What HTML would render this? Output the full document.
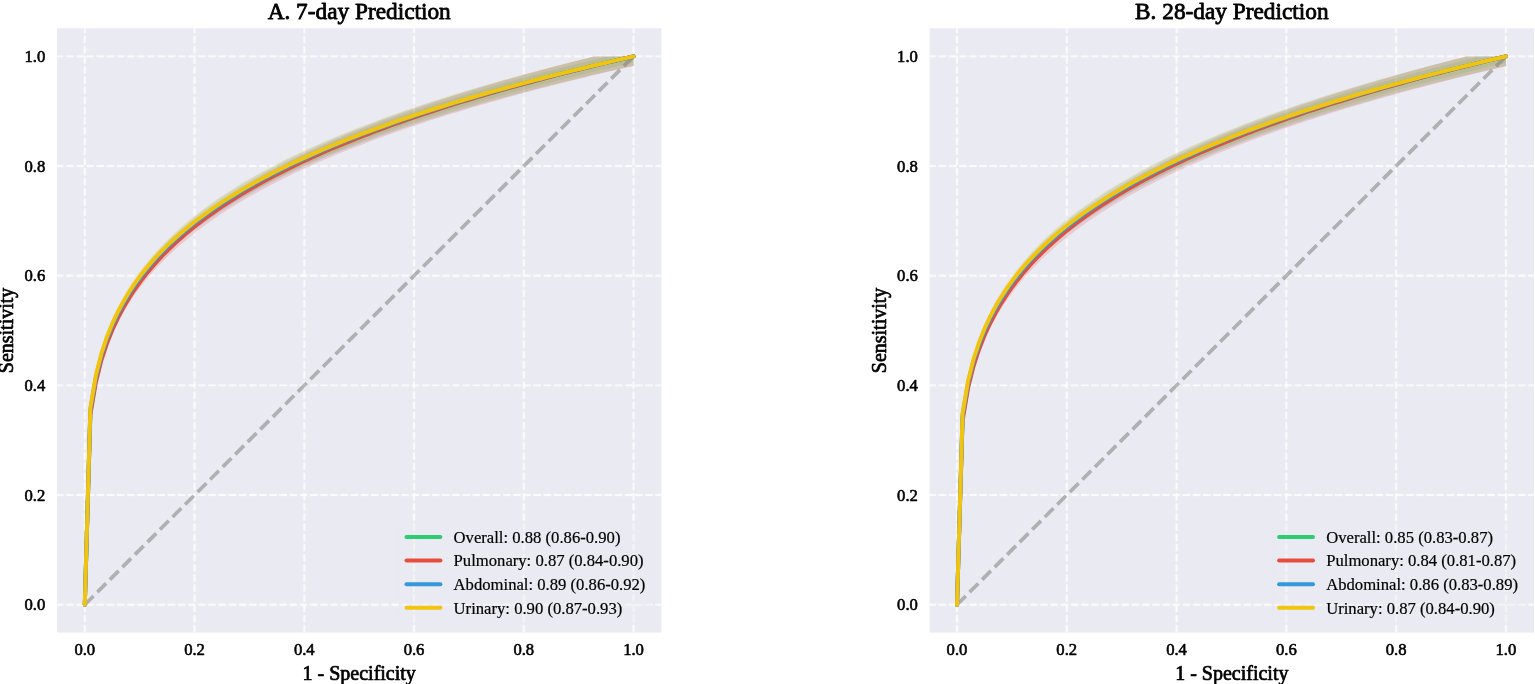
<!DOCTYPE html>
<html lang="en">
<head>
<meta charset="utf-8">
<title>ROC curves: 7-day and 28-day Prediction</title>
<style>
html,body{margin:0;padding:0;background:#fff;}
body{width:1535px;height:684px;overflow:hidden;}
svg{display:block;}
text{font-family:"Liberation Serif","DejaVu Serif",serif;fill:#000000;}
.tick{font-size:16.65px;stroke:#000000;stroke-width:0.6px;stroke-linejoin:round;}
.lab{font-size:20px;stroke:#000000;stroke-width:0.7px;stroke-linejoin:round;}
.ttl{font-size:23.3px;stroke:#000000;stroke-width:0.8px;stroke-linejoin:round;}
.leg{font-size:16.65px;stroke:#000;stroke-width:0.2px;}
.grid{stroke:#fff;stroke-opacity:0.9;stroke-width:1.90;stroke-dasharray:7.50 2.66;fill:none;}
.curve{fill:none;stroke-width:4.00;stroke-linejoin:round;stroke-linecap:round;}
.band{stroke:none;fill-opacity:0.20;}
</style>
</head>
<body>
<svg width="1535" height="684" viewBox="0 0 1535 684" role="img" aria-label="ROC curves for 7-day and 28-day prediction">
<defs><filter id="soft" x="0" y="0" width="1535" height="684" filterUnits="userSpaceOnUse" color-interpolation-filters="sRGB"><feGaussianBlur in="SourceGraphic" stdDeviation="1" result="b"/><feComposite in="SourceGraphic" in2="b" operator="arithmetic" k1="0" k2="0.65" k3="0.35" k4="0"/></filter></defs>
<rect x="0" y="0" width="1535" height="684" fill="#ffffff"/>
<g id="panel-A">
<clipPath id="clipA"><rect x="57" y="28.3" width="604.4" height="604.3"/></clipPath>
<rect x="57" y="28.3" width="604.4" height="604.3" fill="#eaeaf2"/>
<g class="grid" filter="url(#soft)">
<path d="M84.8 632.6V28.3"/><path d="M194.55 632.6V28.3"/><path d="M304.3 632.6V28.3"/><path d="M414.05 632.6V28.3"/><path d="M523.8 632.6V28.3"/><path d="M633.55 632.6V28.3"/>
<path d="M56 604.7H661.4"/><path d="M56 495.04H661.4"/><path d="M56 385.38H661.4"/><path d="M56 275.72H661.4"/><path d="M56 166.06H661.4"/><path d="M56 56.4H661.4"/>
</g>
<g clip-path="url(#clipA)">
<polygon class="band" fill="#2ecc71" points="84.8,604.7 90.34,410.46 95.89,377.16 101.43,355.09 106.97,338.15 112.51,324.22 118.06,312.3 123.6,301.83 129.14,292.45 134.69,283.94 140.23,276.13 145.77,268.91 151.32,262.17 156.86,255.86 162.4,249.9 167.94,244.27 173.49,238.92 179.03,233.83 184.57,228.95 190.12,224.29 195.66,219.81 201.2,215.5 206.74,211.34 212.29,207.33 217.83,203.45 223.37,199.69 228.92,196.05 234.46,192.52 240,189.08 245.54,185.74 251.09,182.48 256.63,179.31 262.17,176.22 267.72,173.2 273.26,170.25 278.8,167.36 284.35,164.54 289.89,161.78 295.43,159.07 300.97,156.42 306.52,153.83 312.06,151.28 317.6,148.78 323.15,146.32 328.69,143.91 334.23,141.54 339.77,139.21 345.32,136.92 350.86,134.66 356.4,132.45 361.95,130.26 367.49,128.11 373.03,126 378.58,123.91 384.12,121.86 389.66,119.83 395.2,117.83 400.75,115.86 406.29,113.91 411.83,112 417.38,110.1 422.92,108.23 428.46,106.39 434,104.56 439.55,102.76 445.09,100.98 450.63,99.22 456.18,97.48 461.72,95.77 467.26,94.07 472.81,92.39 478.35,90.73 483.89,89.08 489.43,87.46 494.98,85.85 500.52,84.26 506.06,82.68 511.61,81.12 517.15,79.58 522.69,78.05 528.23,76.53 533.78,75.03 539.32,73.55 544.86,72.07 550.41,70.62 555.95,69.17 561.49,67.74 567.03,66.32 572.58,64.91 578.12,63.52 583.66,62.14 589.21,60.77 594.75,59.41 600.29,58.06 605.84,56.73 611.38,56.4 616.92,56.4 622.46,56.4 628.01,56.4 633.55,56.4 633.55,62.67 628.01,63.92 622.46,65.19 616.92,66.46 611.38,67.75 605.84,69.04 600.29,70.35 594.75,71.66 589.21,72.99 583.66,74.33 578.12,75.68 572.58,77.05 567.03,78.42 561.49,79.81 555.95,81.21 550.41,82.62 544.86,84.04 539.32,85.48 533.78,86.94 528.23,88.4 522.69,89.88 517.15,91.38 511.61,92.89 506.06,94.41 500.52,95.95 494.98,97.51 489.43,99.08 483.89,100.67 478.35,102.28 472.81,103.9 467.26,105.54 461.72,107.2 456.18,108.88 450.63,110.58 445.09,112.3 439.55,114.04 434,115.8 428.46,117.59 422.92,119.39 417.38,121.22 411.83,123.07 406.29,124.94 400.75,126.85 395.2,128.77 389.66,130.73 384.12,132.71 378.58,134.72 373.03,136.76 367.49,138.83 361.95,140.93 356.4,143.06 350.86,145.23 345.32,147.43 339.77,149.67 334.23,151.95 328.69,154.26 323.15,156.62 317.6,159.02 312.06,161.47 306.52,163.96 300.97,166.5 295.43,169.09 289.89,171.73 284.35,174.43 278.8,177.19 273.26,180.01 267.72,182.89 262.17,185.85 256.63,188.87 251.09,191.97 245.54,195.15 240,198.42 234.46,201.78 228.92,205.24 223.37,208.8 217.83,212.47 212.29,216.26 206.74,220.18 201.2,224.24 195.66,228.46 190.12,232.84 184.57,237.4 179.03,242.16 173.49,247.14 167.94,252.37 162.4,257.88 156.86,263.7 151.32,269.87 145.77,276.45 140.23,283.52 134.69,291.15 129.14,299.47 123.6,308.63 118.06,318.87 112.51,330.52 106.97,344.14 101.43,360.7 95.89,382.27 90.34,414.82 84.8,604.7"/>
<polygon class="band" fill="#e74c3c" points="84.8,604.7 90.34,411.67 95.89,378.17 101.43,355.94 106.97,338.86 112.51,324.8 118.06,312.77 123.6,302.19 129.14,292.72 134.69,284.12 140.23,276.22 145.77,268.92 151.32,262.1 156.86,255.71 162.4,249.69 167.94,243.99 173.49,238.57 179.03,233.41 184.57,228.48 190.12,223.75 195.66,219.22 201.2,214.85 206.74,210.64 212.29,206.57 217.83,202.64 223.37,198.84 228.92,195.14 234.46,191.56 240,188.08 245.54,184.69 251.09,181.39 256.63,178.17 262.17,175.03 267.72,171.97 273.26,168.97 278.8,166.05 284.35,163.19 289.89,160.38 295.43,157.64 300.97,154.95 306.52,152.31 312.06,149.73 317.6,147.19 323.15,144.7 328.69,142.25 334.23,139.84 339.77,137.48 345.32,135.15 350.86,132.86 356.4,130.61 361.95,128.4 367.49,126.21 373.03,124.06 378.58,121.94 384.12,119.86 389.66,117.8 395.2,115.77 400.75,113.77 406.29,111.79 411.83,109.84 417.38,107.92 422.92,106.02 428.46,104.14 434,102.29 439.55,100.46 445.09,98.65 450.63,96.86 456.18,95.1 461.72,93.35 467.26,91.63 472.81,89.92 478.35,88.23 483.89,86.56 489.43,84.91 494.98,83.27 500.52,81.65 506.06,80.05 511.61,78.46 517.15,76.89 522.69,75.34 528.23,73.8 533.78,72.28 539.32,70.76 544.86,69.27 550.41,67.79 555.95,66.32 561.49,64.86 567.03,63.42 572.58,61.99 578.12,60.57 583.66,59.16 589.21,57.77 594.75,56.4 600.29,56.4 605.84,56.4 611.38,56.4 616.92,56.4 622.46,56.4 628.01,56.4 633.55,56.4 633.55,65.94 628.01,67.2 622.46,68.47 616.92,69.75 611.38,71.04 605.84,72.34 600.29,73.66 594.75,74.98 589.21,76.32 583.66,77.66 578.12,79.02 572.58,80.39 567.03,81.77 561.49,83.17 555.95,84.57 550.41,85.99 544.86,87.42 539.32,88.87 533.78,90.33 528.23,91.8 522.69,93.29 517.15,94.79 511.61,96.31 506.06,97.84 500.52,99.39 494.98,100.95 489.43,102.53 483.89,104.13 478.35,105.74 472.81,107.37 467.26,109.02 461.72,110.69 456.18,112.38 450.63,114.08 445.09,115.81 439.55,117.56 434,119.33 428.46,121.12 422.92,122.93 417.38,124.76 411.83,126.62 406.29,128.5 400.75,130.41 395.2,132.35 389.66,134.31 384.12,136.3 378.58,138.31 373.03,140.36 367.49,142.44 361.95,144.55 356.4,146.69 350.86,148.86 345.32,151.07 339.77,153.32 334.23,155.61 328.69,157.93 323.15,160.29 317.6,162.7 312.06,165.15 306.52,167.65 300.97,170.2 295.43,172.8 289.89,175.45 284.35,178.16 278.8,180.92 273.26,183.75 267.72,186.64 262.17,189.6 256.63,192.63 251.09,195.74 245.54,198.93 240,202.2 234.46,205.57 228.92,209.03 223.37,212.6 217.83,216.28 212.29,220.07 206.74,224 201.2,228.07 195.66,232.29 190.12,236.67 184.57,241.24 179.03,246 173.49,250.99 167.94,256.22 162.4,261.73 156.86,267.55 151.32,273.72 145.77,280.3 140.23,287.36 134.69,294.99 129.14,303.3 123.6,312.45 118.06,322.67 112.51,334.29 106.97,347.87 101.43,364.38 95.89,385.85 90.34,418.22 84.8,604.7"/>
<polygon class="band" fill="#3498db" points="84.8,604.7 90.34,407.11 95.89,373.65 101.43,351.5 106.97,334.52 112.51,320.56 118.06,308.62 123.6,298.14 129.14,288.76 134.69,280.24 140.23,272.44 145.77,265.21 151.32,258.48 156.86,252.16 162.4,246.22 167.94,240.59 173.49,235.25 179.03,230.16 184.57,225.29 190.12,220.64 195.66,216.16 201.2,211.86 206.74,207.71 212.29,203.71 217.83,199.84 223.37,196.09 228.92,192.46 234.46,188.93 240,185.51 245.54,182.17 251.09,178.93 256.63,175.76 262.17,172.68 267.72,169.67 273.26,166.73 278.8,163.85 284.35,161.04 289.89,158.29 295.43,155.59 300.97,152.95 306.52,150.36 312.06,147.82 317.6,145.33 323.15,142.88 328.69,140.48 334.23,138.12 339.77,135.8 345.32,133.52 350.86,131.27 356.4,129.07 361.95,126.89 367.49,124.75 373.03,122.64 378.58,120.57 384.12,118.52 389.66,116.5 395.2,114.51 400.75,112.55 406.29,110.61 411.83,108.7 417.38,106.82 422.92,104.96 428.46,103.12 434,101.3 439.55,99.51 445.09,97.74 450.63,95.99 456.18,94.26 461.72,92.55 467.26,90.86 472.81,89.19 478.35,87.54 483.89,85.9 489.43,84.28 494.98,82.68 500.52,81.1 506.06,79.53 511.61,77.98 517.15,76.44 522.69,74.92 528.23,73.41 533.78,71.92 539.32,70.45 544.86,68.98 550.41,67.53 555.95,66.09 561.49,64.67 567.03,63.26 572.58,61.86 578.12,60.47 583.66,59.1 589.21,57.74 594.75,56.4 600.29,56.4 605.84,56.4 611.38,56.4 616.92,56.4 622.46,56.4 628.01,56.4 633.55,56.4 633.55,65.72 628.01,66.95 622.46,68.2 616.92,69.45 611.38,70.71 605.84,71.99 600.29,73.27 594.75,74.57 589.21,75.87 583.66,77.19 578.12,78.52 572.58,79.86 567.03,81.21 561.49,82.58 555.95,83.95 550.41,85.34 544.86,86.74 539.32,88.16 533.78,89.59 528.23,91.03 522.69,92.49 517.15,93.96 511.61,95.44 506.06,96.94 500.52,98.46 494.98,99.99 489.43,101.54 483.89,103.1 478.35,104.68 472.81,106.28 467.26,107.9 461.72,109.53 456.18,111.19 450.63,112.86 445.09,114.55 439.55,116.26 434,118 428.46,119.75 422.92,121.53 417.38,123.33 411.83,125.15 406.29,127 400.75,128.87 395.2,130.76 389.66,132.69 384.12,134.64 378.58,136.62 373.03,138.63 367.49,140.67 361.95,142.73 356.4,144.84 350.86,146.97 345.32,149.14 339.77,151.35 334.23,153.59 328.69,155.87 323.15,158.2 317.6,160.56 312.06,162.97 306.52,165.43 300.97,167.93 295.43,170.48 289.89,173.09 284.35,175.75 278.8,178.47 273.26,181.25 267.72,184.09 262.17,187 256.63,189.99 251.09,193.04 245.54,196.18 240,199.41 234.46,202.72 228.92,206.13 223.37,209.64 217.83,213.27 212.29,217.01 206.74,220.88 201.2,224.89 195.66,229.05 190.12,233.37 184.57,237.88 179.03,242.58 173.49,247.5 167.94,252.67 162.4,258.1 156.86,263.85 151.32,269.96 145.77,276.47 140.23,283.45 134.69,291 129.14,299.23 123.6,308.3 118.06,318.44 112.51,329.98 106.97,343.47 101.43,359.9 95.89,381.31 90.34,413.66 84.8,604.7"/>
<polygon class="band" fill="#f1c40f" points="84.8,604.7 90.34,404.87 95.89,371.43 101.43,349.33 106.97,332.39 112.51,318.48 118.06,306.6 123.6,296.16 129.14,286.82 134.69,278.36 140.23,270.59 145.77,263.4 151.32,256.71 156.86,250.44 162.4,244.53 167.94,238.94 173.49,233.63 179.03,228.58 184.57,223.75 190.12,219.12 195.66,214.68 201.2,210.41 206.74,206.29 212.29,202.32 217.83,198.48 223.37,194.76 228.92,191.16 234.46,187.66 240,184.26 245.54,180.95 251.09,177.73 256.63,174.6 262.17,171.54 267.72,168.55 273.26,165.64 278.8,162.79 284.35,160 289.89,157.27 295.43,154.6 300.97,151.98 306.52,149.41 312.06,146.9 317.6,144.43 323.15,142.01 328.69,139.62 334.23,137.29 339.77,134.99 345.32,132.73 350.86,130.5 356.4,128.32 361.95,126.16 367.49,124.04 373.03,121.95 378.58,119.9 384.12,117.87 389.66,115.87 395.2,113.9 400.75,111.96 406.29,110.04 411.83,108.15 417.38,106.28 422.92,104.44 428.46,102.62 434,100.83 439.55,99.05 445.09,97.3 450.63,95.57 456.18,93.86 461.72,92.16 467.26,90.49 472.81,88.84 478.35,87.2 483.89,85.58 489.43,83.98 494.98,82.4 500.52,80.83 506.06,79.28 511.61,77.74 517.15,76.22 522.69,74.72 528.23,73.23 533.78,71.75 539.32,70.29 544.86,68.84 550.41,67.41 555.95,65.99 561.49,64.58 567.03,63.18 572.58,61.8 578.12,60.43 583.66,59.07 589.21,57.72 594.75,56.4 600.29,56.4 605.84,56.4 611.38,56.4 616.92,56.4 622.46,56.4 628.01,56.4 633.55,56.4 633.55,65.62 628.01,66.84 622.46,68.07 616.92,69.31 611.38,70.56 605.84,71.82 600.29,73.09 594.75,74.37 589.21,75.66 583.66,76.96 578.12,78.28 572.58,79.6 567.03,80.94 561.49,82.29 555.95,83.65 550.41,85.03 544.86,86.42 539.32,87.82 533.78,89.23 528.23,90.66 522.69,92.1 517.15,93.56 511.61,95.03 506.06,96.51 500.52,98.01 494.98,99.53 489.43,101.06 483.89,102.61 478.35,104.17 472.81,105.75 467.26,107.35 461.72,108.97 456.18,110.61 450.63,112.26 445.09,113.94 439.55,115.64 434,117.35 428.46,119.09 422.92,120.85 417.38,122.63 411.83,124.44 406.29,126.27 400.75,128.12 395.2,130 389.66,131.9 384.12,133.84 378.58,135.8 373.03,137.79 367.49,139.81 361.95,141.86 356.4,143.94 350.86,146.05 345.32,148.21 339.77,150.39 334.23,152.61 328.69,154.88 323.15,157.18 317.6,159.52 312.06,161.91 306.52,164.35 300.97,166.83 295.43,169.36 289.89,171.94 284.35,174.58 278.8,177.28 273.26,180.03 267.72,182.86 262.17,185.74 256.63,188.7 251.09,191.74 245.54,194.85 240,198.05 234.46,201.33 228.92,204.72 223.37,208.2 217.83,211.8 212.29,215.52 206.74,219.36 201.2,223.34 195.66,227.47 190.12,231.77 184.57,236.24 179.03,240.91 173.49,245.8 167.94,250.93 162.4,256.34 156.86,262.06 151.32,268.12 145.77,274.6 140.23,281.55 134.69,289.06 129.14,297.25 123.6,306.28 118.06,316.37 112.51,327.87 106.97,341.32 101.43,357.7 95.89,379.08 90.34,411.42 84.8,604.7"/>
<path d="M84.8 604.7L633.55 56.4" fill="none" stroke="#808080" stroke-opacity="0.55" stroke-width="3.70" stroke-dasharray="12.37 5.35"/>
<polyline class="curve" stroke="#2ecc71" points="84.8,604.7 90.34,412.63 95.89,379.7 101.43,357.88 106.97,341.13 112.51,327.35 118.06,315.57 123.6,305.21 129.14,295.94 134.69,287.53 140.23,279.81 145.77,272.66 151.32,266 156.86,259.75 162.4,253.87 167.94,248.3 173.49,243.01 179.03,237.97 184.57,233.15 190.12,228.54 195.66,224.11 201.2,219.85 206.74,215.74 212.29,211.77 217.83,207.93 223.37,204.22 228.92,200.62 234.46,197.12 240,193.72 245.54,190.42 251.09,187.2 256.63,184.06 262.17,181 267.72,178.02 273.26,175.1 278.8,172.25 284.35,169.46 289.89,166.73 295.43,164.05 300.97,161.43 306.52,158.86 312.06,156.34 317.6,153.87 323.15,151.44 328.69,149.06 334.23,146.71 339.77,144.41 345.32,142.14 350.86,139.92 356.4,137.72 361.95,135.57 367.49,133.44 373.03,131.35 378.58,129.28 384.12,127.25 389.66,125.25 395.2,123.27 400.75,121.32 406.29,119.4 411.83,117.5 417.38,115.63 422.92,113.78 428.46,111.95 434,110.15 439.55,108.37 445.09,106.61 450.63,104.87 456.18,103.15 461.72,101.45 467.26,99.77 472.81,98.11 478.35,96.47 483.89,94.84 489.43,93.24 494.98,91.65 500.52,90.07 506.06,88.51 511.61,86.97 517.15,85.44 522.69,83.93 528.23,82.43 533.78,80.95 539.32,79.48 544.86,78.03 550.41,76.58 555.95,75.15 561.49,73.74 567.03,72.34 572.58,70.95 578.12,69.57 583.66,68.2 589.21,66.85 594.75,65.5 600.29,64.17 605.84,62.85 611.38,61.54 616.92,60.24 622.46,58.95 628.01,57.67 633.55,56.4"/>
<polyline class="curve" stroke="#e74c3c" points="84.8,604.7 90.34,414.92 95.89,381.98 101.43,360.12 106.97,343.33 112.51,329.51 118.06,317.68 123.6,307.28 129.14,297.96 134.69,289.51 140.23,281.75 145.77,274.56 151.32,267.86 156.86,261.58 162.4,255.66 167.94,250.05 173.49,244.73 179.03,239.65 184.57,234.8 190.12,230.16 195.66,225.7 201.2,221.4 206.74,217.26 212.29,213.27 217.83,209.4 223.37,205.66 228.92,202.03 234.46,198.5 240,195.08 245.54,191.75 251.09,188.5 256.63,185.34 262.17,182.25 267.72,179.24 273.26,176.3 278.8,173.42 284.35,170.61 289.89,167.85 295.43,165.15 300.97,162.51 306.52,159.92 312.06,157.37 317.6,154.88 323.15,152.43 328.69,150.02 334.23,147.66 339.77,145.33 345.32,143.04 350.86,140.79 356.4,138.58 361.95,136.4 367.49,134.26 373.03,132.14 378.58,130.06 384.12,128.01 389.66,125.98 395.2,123.99 400.75,122.02 406.29,120.08 411.83,118.16 417.38,116.27 422.92,114.4 428.46,112.56 434,110.73 439.55,108.93 445.09,107.16 450.63,105.4 456.18,103.66 461.72,101.95 467.26,100.25 472.81,98.57 478.35,96.91 483.89,95.27 489.43,93.64 494.98,92.04 500.52,90.44 506.06,88.87 511.61,87.31 517.15,85.77 522.69,84.24 528.23,82.72 533.78,81.22 539.32,79.74 544.86,78.27 550.41,76.81 555.95,75.37 561.49,73.93 567.03,72.52 572.58,71.11 578.12,69.72 583.66,68.33 589.21,66.96 594.75,65.61 600.29,64.26 605.84,62.92 611.38,61.6 616.92,60.28 622.46,58.98 628.01,57.68 633.55,56.4"/>
<polyline class="curve" stroke="#3498db" points="84.8,604.7 90.34,410.36 95.89,377.44 101.43,355.66 106.97,338.96 112.51,325.23 118.06,313.49 123.6,303.18 129.14,293.95 134.69,285.58 140.23,277.9 145.77,270.79 151.32,264.17 156.86,257.96 162.4,252.11 167.94,246.58 173.49,241.32 179.03,236.32 184.57,231.53 190.12,226.95 195.66,222.55 201.2,218.32 206.74,214.24 212.29,210.3 217.83,206.5 223.37,202.81 228.92,199.24 234.46,195.77 240,192.4 245.54,189.12 251.09,185.93 256.63,182.81 262.17,179.78 267.72,176.82 273.26,173.93 278.8,171.1 284.35,168.33 289.89,165.63 295.43,162.97 300.97,160.38 306.52,157.83 312.06,155.33 317.6,152.88 323.15,150.48 328.69,148.11 334.23,145.79 339.77,143.51 345.32,141.26 350.86,139.06 356.4,136.88 361.95,134.75 367.49,132.64 373.03,130.57 378.58,128.52 384.12,126.51 389.66,124.53 395.2,122.57 400.75,120.64 406.29,118.74 411.83,116.86 417.38,115 422.92,113.17 428.46,111.36 434,109.58 439.55,107.82 445.09,106.07 450.63,104.35 456.18,102.65 461.72,100.97 467.26,99.31 472.81,97.66 478.35,96.04 483.89,94.43 489.43,92.84 494.98,91.26 500.52,89.71 506.06,88.16 511.61,86.64 517.15,85.13 522.69,83.63 528.23,82.15 533.78,80.68 539.32,79.23 544.86,77.79 550.41,76.36 555.95,74.95 561.49,73.55 567.03,72.16 572.58,70.78 578.12,69.42 583.66,68.07 589.21,66.73 594.75,65.4 600.29,64.08 605.84,62.78 611.38,61.48 616.92,60.2 622.46,58.92 628.01,57.66 633.55,56.4"/>
<polyline class="curve" stroke="#f1c40f" points="84.8,604.7 90.34,408.12 95.89,375.22 101.43,353.48 106.97,336.82 112.51,323.14 118.06,311.44 123.6,301.18 129.14,291.99 134.69,283.66 140.23,276.02 145.77,268.95 151.32,262.37 156.86,256.2 162.4,250.39 167.94,244.89 173.49,239.67 179.03,234.69 184.57,229.94 190.12,225.39 195.66,221.02 201.2,216.82 206.74,212.77 212.29,208.86 217.83,205.08 223.37,201.43 228.92,197.88 234.46,194.44 240,191.09 245.54,187.84 251.09,184.68 256.63,181.59 262.17,178.58 267.72,175.64 273.26,172.78 278.8,169.97 284.35,167.23 289.89,164.55 295.43,161.92 300.97,159.34 306.52,156.82 312.06,154.34 317.6,151.91 323.15,149.53 328.69,147.19 334.23,144.89 339.77,142.62 345.32,140.4 350.86,138.21 356.4,136.06 361.95,133.94 367.49,131.86 373.03,129.8 378.58,127.78 384.12,125.79 389.66,123.82 395.2,121.88 400.75,119.97 406.29,118.09 411.83,116.23 417.38,114.39 422.92,112.58 428.46,110.79 434,109.02 439.55,107.27 445.09,105.55 450.63,103.85 456.18,102.16 461.72,100.5 467.26,98.85 472.81,97.22 478.35,95.62 483.89,94.02 489.43,92.45 494.98,90.89 500.52,89.35 506.06,87.82 511.61,86.31 517.15,84.82 522.69,83.34 528.23,81.87 533.78,80.42 539.32,78.98 544.86,77.56 550.41,76.15 555.95,74.75 561.49,73.36 567.03,71.99 572.58,70.63 578.12,69.28 583.66,67.94 589.21,66.62 594.75,65.3 600.29,64 605.84,62.71 611.38,61.42 616.92,60.15 622.46,58.89 628.01,57.64 633.55,56.4"/>
</g>
<g class="tick" text-anchor="middle"><text x="84.8" y="655.4">0.0</text><text x="194.55" y="655.4">0.2</text><text x="304.3" y="655.4">0.4</text><text x="414.05" y="655.4">0.6</text><text x="523.8" y="655.4">0.8</text><text x="633.55" y="655.4">1.0</text></g>
<g class="tick" text-anchor="end"><text x="45.3" y="610.2">0.0</text><text x="45.3" y="500.54">0.2</text><text x="45.3" y="390.88">0.4</text><text x="45.3" y="281.22">0.6</text><text x="45.3" y="171.56">0.8</text><text x="45.3" y="61.9">1.0</text></g>
<text class="ttl" text-anchor="middle" x="359.2" y="19">A. 7-day Prediction</text>
<text class="lab" text-anchor="middle" x="359.2" y="680">1 - Specificity</text>
<text class="lab" text-anchor="middle" transform="translate(13.2 330.45) rotate(-90)">Sensitivity</text>
<rect x="399.8" y="522.5" width="251.5" height="101" rx="3" ry="3" fill="#eaeaf2" fill-opacity="0.45"/>
<path d="M406.5 537H440.4" stroke="#2ecc71" stroke-width="4.00" stroke-linecap="round" fill="none"/>
<path d="M406.5 560.57H440.4" stroke="#e74c3c" stroke-width="4.00" stroke-linecap="round" fill="none"/>
<path d="M406.5 584.14H440.4" stroke="#3498db" stroke-width="4.00" stroke-linecap="round" fill="none"/>
<path d="M406.5 607.71H440.4" stroke="#f1c40f" stroke-width="4.00" stroke-linecap="round" fill="none"/>
</g>
<g id="panel-B">
<clipPath id="clipB"><rect x="929.6" y="28.3" width="604.4" height="604.3"/></clipPath>
<rect x="929.6" y="28.3" width="604.4" height="604.3" fill="#eaeaf2"/>
<g class="grid" filter="url(#soft)">
<path d="M957 632.6V28.3"/><path d="M1066.78 632.6V28.3"/><path d="M1176.56 632.6V28.3"/><path d="M1286.34 632.6V28.3"/><path d="M1396.12 632.6V28.3"/><path d="M1505.9 632.6V28.3"/>
<path d="M928.6 604.7H1534"/><path d="M928.6 495.04H1534"/><path d="M928.6 385.38H1534"/><path d="M928.6 275.72H1534"/><path d="M928.6 166.06H1534"/><path d="M928.6 56.4H1534"/>
</g>
<g clip-path="url(#clipB)">
<polygon class="band" fill="#2ecc71" points="957,604.7 962.54,416.12 968.09,382.79 973.63,360.62 979.18,343.56 984.72,329.52 990.27,317.48 995.81,306.9 1001.36,297.41 1006.9,288.8 1012.44,280.88 1017.99,273.56 1023.53,266.72 1029.08,260.31 1034.62,254.26 1040.17,248.54 1045.71,243.1 1051.26,237.92 1056.8,232.96 1062.34,228.21 1067.89,223.65 1073.43,219.26 1078.98,215.03 1084.52,210.94 1090.07,206.99 1095.61,203.16 1101.16,199.44 1106.7,195.83 1112.24,192.33 1117.79,188.92 1123.33,185.59 1128.88,182.35 1134.42,179.19 1139.97,176.11 1145.51,173.09 1151.06,170.15 1156.6,167.26 1162.14,164.44 1167.69,161.67 1173.23,158.96 1178.78,156.31 1184.32,153.7 1189.87,151.14 1195.41,148.63 1200.96,146.16 1206.5,143.73 1212.04,141.35 1217.59,139 1223.13,136.69 1228.68,134.42 1234.22,132.19 1239.77,129.99 1245.31,127.82 1250.86,125.68 1256.4,123.57 1261.94,121.49 1267.49,119.45 1273.03,117.43 1278.58,115.43 1284.12,113.46 1289.67,111.52 1295.21,109.6 1300.76,107.71 1306.3,105.84 1311.84,103.99 1317.39,102.16 1322.93,100.36 1328.48,98.58 1334.02,96.81 1339.57,95.07 1345.11,93.34 1350.66,91.64 1356.2,89.95 1361.74,88.28 1367.29,86.63 1372.83,84.99 1378.38,83.37 1383.92,81.77 1389.47,80.19 1395.01,78.61 1400.56,77.06 1406.1,75.52 1411.64,73.99 1417.19,72.48 1422.73,70.98 1428.28,69.49 1433.82,68.02 1439.37,66.56 1444.91,65.12 1450.46,63.68 1456,62.26 1461.54,60.85 1467.09,59.46 1472.63,58.07 1478.18,56.7 1483.72,56.4 1489.27,56.4 1494.81,56.4 1500.36,56.4 1505.9,56.4 1505.9,62.89 1500.36,64.18 1494.81,65.48 1489.27,66.79 1483.72,68.11 1478.18,69.44 1472.63,70.78 1467.09,72.14 1461.54,73.5 1456,74.88 1450.46,76.27 1444.91,77.67 1439.37,79.08 1433.82,80.5 1428.28,81.94 1422.73,83.39 1417.19,84.86 1411.64,86.33 1406.1,87.83 1400.56,89.33 1395.01,90.85 1389.47,92.38 1383.92,93.93 1378.38,95.5 1372.83,97.08 1367.29,98.68 1361.74,100.29 1356.2,101.92 1350.66,103.57 1345.11,105.24 1339.57,106.92 1334.02,108.63 1328.48,110.35 1322.93,112.09 1317.39,113.85 1311.84,115.64 1306.3,117.44 1300.76,119.27 1295.21,121.12 1289.67,122.99 1284.12,124.89 1278.58,126.81 1273.03,128.76 1267.49,130.73 1261.94,132.73 1256.4,134.76 1250.86,136.82 1245.31,138.91 1239.77,141.03 1234.22,143.18 1228.68,145.36 1223.13,147.58 1217.59,149.83 1212.04,152.13 1206.5,154.45 1200.96,156.82 1195.41,159.24 1189.87,161.69 1184.32,164.19 1178.78,166.74 1173.23,169.33 1167.69,171.98 1162.14,174.68 1156.6,177.44 1151.06,180.25 1145.51,183.13 1139.97,186.08 1134.42,189.09 1128.88,192.18 1123.33,195.34 1117.79,198.59 1112.24,201.92 1106.7,205.34 1101.16,208.87 1095.61,212.5 1090.07,216.24 1084.52,220.1 1078.98,224.09 1073.43,228.23 1067.89,232.52 1062.34,236.97 1056.8,241.61 1051.26,246.45 1045.71,251.51 1040.17,256.82 1034.62,262.41 1029.08,268.32 1023.53,274.58 1017.99,281.26 1012.44,288.42 1006.9,296.14 1001.36,304.56 995.81,313.82 990.27,324.16 984.72,335.92 979.18,349.64 973.63,366.3 968.09,387.95 962.54,420.5 957,604.7"/>
<polygon class="band" fill="#e74c3c" points="957,604.7 962.54,417.42 968.09,383.9 973.63,361.57 979.18,344.37 984.72,330.19 990.27,318.04 995.81,307.34 1001.36,297.76 1006.9,289.05 1012.44,281.05 1017.99,273.63 1023.53,266.72 1029.08,260.23 1034.62,254.11 1040.17,248.32 1045.71,242.81 1051.26,237.56 1056.8,232.54 1062.34,227.73 1067.89,223.1 1073.43,218.66 1078.98,214.36 1084.52,210.22 1090.07,206.21 1095.61,202.33 1101.16,198.56 1106.7,194.9 1112.24,191.35 1117.79,187.88 1123.33,184.51 1128.88,181.23 1134.42,178.02 1139.97,174.89 1145.51,171.83 1151.06,168.84 1156.6,165.91 1162.14,163.05 1167.69,160.24 1173.23,157.49 1178.78,154.79 1184.32,152.14 1189.87,149.54 1195.41,146.99 1200.96,144.48 1206.5,142.02 1212.04,139.6 1217.59,137.22 1223.13,134.87 1228.68,132.56 1234.22,130.29 1239.77,128.05 1245.31,125.85 1250.86,123.68 1256.4,121.54 1261.94,119.43 1267.49,117.34 1273.03,115.29 1278.58,113.26 1284.12,111.26 1289.67,109.29 1295.21,107.34 1300.76,105.41 1306.3,103.51 1311.84,101.63 1317.39,99.78 1322.93,97.94 1328.48,96.13 1334.02,94.34 1339.57,92.56 1345.11,90.81 1350.66,89.07 1356.2,87.36 1361.74,85.66 1367.29,83.98 1372.83,82.32 1378.38,80.67 1383.92,79.04 1389.47,77.42 1395.01,75.83 1400.56,74.24 1406.1,72.68 1411.64,71.12 1417.19,69.58 1422.73,68.06 1428.28,66.55 1433.82,65.05 1439.37,63.57 1444.91,62.09 1450.46,60.64 1456,59.19 1461.54,57.75 1467.09,56.4 1472.63,56.4 1478.18,56.4 1483.72,56.4 1489.27,56.4 1494.81,56.4 1500.36,56.4 1505.9,56.4 1505.9,66.28 1500.36,67.58 1494.81,68.88 1489.27,70.2 1483.72,71.53 1478.18,72.87 1472.63,74.22 1467.09,75.58 1461.54,76.95 1456,78.34 1450.46,79.73 1444.91,81.14 1439.37,82.56 1433.82,83.99 1428.28,85.44 1422.73,86.89 1417.19,88.37 1411.64,89.85 1406.1,91.35 1400.56,92.86 1395.01,94.39 1389.47,95.93 1383.92,97.49 1378.38,99.06 1372.83,100.65 1367.29,102.26 1361.74,103.88 1356.2,105.52 1350.66,107.17 1345.11,108.85 1339.57,110.54 1334.02,112.25 1328.48,113.98 1322.93,115.73 1317.39,117.5 1311.84,119.29 1306.3,121.1 1300.76,122.94 1295.21,124.8 1289.67,126.68 1284.12,128.58 1278.58,130.51 1273.03,132.47 1267.49,134.45 1261.94,136.46 1256.4,138.5 1250.86,140.56 1245.31,142.66 1239.77,144.78 1234.22,146.94 1228.68,149.14 1223.13,151.36 1217.59,153.62 1212.04,155.92 1206.5,158.26 1200.96,160.64 1195.41,163.06 1189.87,165.52 1184.32,168.03 1178.78,170.58 1173.23,173.18 1167.69,175.84 1162.14,178.55 1156.6,181.31 1151.06,184.14 1145.51,187.02 1139.97,189.98 1134.42,193 1128.88,196.09 1123.33,199.26 1117.79,202.51 1112.24,205.85 1106.7,209.29 1101.16,212.82 1095.61,216.45 1090.07,220.2 1084.52,224.07 1078.98,228.06 1073.43,232.2 1067.89,236.5 1062.34,240.96 1056.8,245.6 1051.26,250.44 1045.71,255.51 1040.17,260.82 1034.62,266.42 1029.08,272.32 1023.53,278.58 1017.99,285.25 1012.44,292.41 1006.9,300.13 1001.36,308.53 995.81,317.78 990.27,328.1 984.72,339.83 979.18,353.5 973.63,370.1 968.09,391.65 962.54,424 957,604.7"/>
<polygon class="band" fill="#3498db" points="957,604.7 962.54,412.67 968.09,379.16 973.63,356.91 979.18,339.81 984.72,325.73 990.27,313.67 995.81,303.07 1001.36,293.58 1006.9,284.96 1012.44,277.04 1017.99,269.72 1023.53,262.88 1029.08,256.47 1034.62,250.43 1040.17,244.72 1045.71,239.28 1051.26,234.11 1056.8,229.16 1062.34,224.42 1067.89,219.86 1073.43,215.48 1078.98,211.26 1084.52,207.18 1090.07,203.23 1095.61,199.41 1101.16,195.71 1106.7,192.11 1112.24,188.61 1117.79,185.21 1123.33,181.9 1128.88,178.67 1134.42,175.52 1139.97,172.44 1145.51,169.44 1151.06,166.5 1156.6,163.62 1162.14,160.81 1167.69,158.06 1173.23,155.35 1178.78,152.71 1184.32,150.11 1189.87,147.56 1195.41,145.06 1200.96,142.6 1206.5,140.18 1212.04,137.81 1217.59,135.47 1223.13,133.17 1228.68,130.91 1234.22,128.69 1239.77,126.49 1245.31,124.33 1250.86,122.2 1256.4,120.11 1261.94,118.04 1267.49,116 1273.03,113.99 1278.58,112 1284.12,110.05 1289.67,108.11 1295.21,106.2 1300.76,104.32 1306.3,102.46 1311.84,100.62 1317.39,98.8 1322.93,97.01 1328.48,95.23 1334.02,93.48 1339.57,91.74 1345.11,90.03 1350.66,88.33 1356.2,86.65 1361.74,84.99 1367.29,83.35 1372.83,81.72 1378.38,80.11 1383.92,78.52 1389.47,76.94 1395.01,75.38 1400.56,73.83 1406.1,72.3 1411.64,70.78 1417.19,69.28 1422.73,67.79 1428.28,66.31 1433.82,64.85 1439.37,63.4 1444.91,61.96 1450.46,60.53 1456,59.12 1461.54,57.72 1467.09,56.4 1472.63,56.4 1478.18,56.4 1483.72,56.4 1489.27,56.4 1494.81,56.4 1500.36,56.4 1505.9,56.4 1505.9,66.05 1500.36,67.32 1494.81,68.59 1489.27,69.88 1483.72,71.18 1478.18,72.49 1472.63,73.81 1467.09,75.14 1461.54,76.48 1456,77.83 1450.46,79.2 1444.91,80.57 1439.37,81.96 1433.82,83.36 1428.28,84.77 1422.73,86.2 1417.19,87.64 1411.64,89.09 1406.1,90.56 1400.56,92.04 1395.01,93.53 1389.47,95.04 1383.92,96.56 1378.38,98.1 1372.83,99.66 1367.29,101.23 1361.74,102.82 1356.2,104.42 1350.66,106.04 1345.11,107.68 1339.57,109.34 1334.02,111.01 1328.48,112.71 1322.93,114.42 1317.39,116.15 1311.84,117.91 1306.3,119.68 1300.76,121.48 1295.21,123.3 1289.67,125.14 1284.12,127.01 1278.58,128.9 1273.03,130.82 1267.49,132.76 1261.94,134.73 1256.4,136.73 1250.86,138.75 1245.31,140.81 1239.77,142.89 1234.22,145.01 1228.68,147.16 1223.13,149.34 1217.59,151.56 1212.04,153.82 1206.5,156.11 1200.96,158.45 1195.41,160.82 1189.87,163.24 1184.32,165.7 1178.78,168.21 1173.23,170.77 1167.69,173.37 1162.14,176.03 1156.6,178.75 1151.06,181.53 1145.51,184.36 1139.97,187.27 1134.42,190.24 1128.88,193.28 1123.33,196.4 1117.79,199.6 1112.24,202.88 1106.7,206.26 1101.16,209.73 1095.61,213.31 1090.07,217 1084.52,220.81 1078.98,224.75 1073.43,228.83 1067.89,233.06 1062.34,237.46 1056.8,242.04 1051.26,246.82 1045.71,251.82 1040.17,257.06 1034.62,262.58 1029.08,268.42 1023.53,274.61 1017.99,281.2 1012.44,288.28 1006.9,295.92 1001.36,304.25 995.81,313.42 990.27,323.65 984.72,335.29 979.18,348.89 973.63,365.41 968.09,386.9 962.54,419.26 957,604.7"/>
<polygon class="band" fill="#f1c40f" points="957,604.7 962.54,410.34 968.09,376.84 973.63,354.63 979.18,337.57 984.72,323.55 990.27,311.54 995.81,300.99 1001.36,291.54 1006.9,282.96 1012.44,275.09 1017.99,267.81 1023.53,261.02 1029.08,254.65 1034.62,248.65 1040.17,242.97 1045.71,237.57 1051.26,232.43 1056.8,227.52 1062.34,222.81 1067.89,218.29 1073.43,213.94 1078.98,209.75 1084.52,205.7 1090.07,201.79 1095.61,198 1101.16,194.32 1106.7,190.75 1112.24,187.29 1117.79,183.91 1123.33,180.63 1128.88,177.43 1134.42,174.3 1139.97,171.25 1145.51,168.28 1151.06,165.36 1156.6,162.52 1162.14,159.73 1167.69,157 1173.23,154.32 1178.78,151.7 1184.32,149.13 1189.87,146.6 1195.41,144.12 1200.96,141.69 1206.5,139.29 1212.04,136.94 1217.59,134.63 1223.13,132.35 1228.68,130.11 1234.22,127.91 1239.77,125.74 1245.31,123.6 1250.86,121.49 1256.4,119.42 1261.94,117.37 1267.49,115.35 1273.03,113.36 1278.58,111.4 1284.12,109.46 1289.67,107.54 1295.21,105.66 1300.76,103.79 1306.3,101.95 1311.84,100.13 1317.39,98.33 1322.93,96.56 1328.48,94.8 1334.02,93.06 1339.57,91.35 1345.11,89.65 1350.66,87.97 1356.2,86.31 1361.74,84.67 1367.29,83.04 1372.83,81.43 1378.38,79.84 1383.92,78.27 1389.47,76.71 1395.01,75.16 1400.56,73.63 1406.1,72.12 1411.64,70.61 1417.19,69.13 1422.73,67.65 1428.28,66.19 1433.82,64.75 1439.37,63.31 1444.91,61.89 1450.46,60.48 1456,59.09 1461.54,57.7 1467.09,56.4 1472.63,56.4 1478.18,56.4 1483.72,56.4 1489.27,56.4 1494.81,56.4 1500.36,56.4 1505.9,56.4 1505.9,65.94 1500.36,67.19 1494.81,68.45 1489.27,69.73 1483.72,71.01 1478.18,72.3 1472.63,73.61 1467.09,74.92 1461.54,76.25 1456,77.59 1450.46,78.94 1444.91,80.3 1439.37,81.67 1433.82,83.06 1428.28,84.45 1422.73,85.86 1417.19,87.29 1411.64,88.72 1406.1,90.17 1400.56,91.64 1395.01,93.12 1389.47,94.61 1383.92,96.12 1378.38,97.64 1372.83,99.18 1367.29,100.73 1361.74,102.3 1356.2,103.89 1350.66,105.49 1345.11,107.11 1339.57,108.75 1334.02,110.41 1328.48,112.09 1322.93,113.79 1317.39,115.5 1311.84,117.24 1306.3,119 1300.76,120.78 1295.21,122.58 1289.67,124.4 1284.12,126.25 1278.58,128.12 1273.03,130.02 1267.49,131.94 1261.94,133.89 1256.4,135.87 1250.86,137.88 1245.31,139.91 1239.77,141.98 1234.22,144.07 1228.68,146.2 1223.13,148.37 1217.59,150.57 1212.04,152.8 1206.5,155.07 1200.96,157.39 1195.41,159.74 1189.87,162.13 1184.32,164.57 1178.78,167.06 1173.23,169.59 1167.69,172.18 1162.14,174.82 1156.6,177.51 1151.06,180.26 1145.51,183.07 1139.97,185.95 1134.42,188.9 1128.88,191.91 1123.33,195.01 1117.79,198.18 1112.24,201.44 1106.7,204.79 1101.16,208.24 1095.61,211.79 1090.07,215.45 1084.52,219.23 1078.98,223.14 1073.43,227.19 1067.89,231.39 1062.34,235.76 1056.8,240.31 1051.26,245.05 1045.71,250.02 1040.17,255.23 1034.62,260.72 1029.08,266.52 1023.53,272.67 1017.99,279.23 1012.44,286.27 1006.9,293.87 1001.36,302.16 995.81,311.29 990.27,321.48 984.72,333.08 979.18,346.63 973.63,363.11 968.09,384.57 962.54,416.93 957,604.7"/>
<path d="M957 604.7L1505.9 56.4" fill="none" stroke="#808080" stroke-opacity="0.55" stroke-width="3.70" stroke-dasharray="12.37 5.35"/>
<polyline class="curve" stroke="#2ecc71" points="957,604.7 962.54,418.3 968.09,385.35 973.63,363.44 979.18,346.58 984.72,332.7 990.27,320.8 995.81,310.34 1001.36,300.96 1006.9,292.45 1012.44,284.63 1017.99,277.38 1023.53,270.63 1029.08,264.29 1034.62,258.32 1040.17,252.66 1045.71,247.28 1051.26,242.16 1056.8,237.26 1062.34,232.57 1067.89,228.06 1073.43,223.72 1078.98,219.53 1084.52,215.49 1090.07,211.58 1095.61,207.8 1101.16,204.13 1106.7,200.56 1112.24,197.1 1117.79,193.72 1123.33,190.44 1128.88,187.24 1134.42,184.11 1139.97,181.06 1145.51,178.08 1151.06,175.17 1156.6,172.32 1162.14,169.53 1167.69,166.8 1173.23,164.12 1178.78,161.49 1184.32,158.91 1189.87,156.38 1195.41,153.9 1200.96,151.46 1206.5,149.06 1212.04,146.71 1217.59,144.39 1223.13,142.11 1228.68,139.86 1234.22,137.65 1239.77,135.47 1245.31,133.33 1250.86,131.22 1256.4,129.13 1261.94,127.08 1267.49,125.06 1273.03,123.06 1278.58,121.09 1284.12,119.14 1289.67,117.22 1295.21,115.33 1300.76,113.46 1306.3,111.61 1311.84,109.78 1317.39,107.97 1322.93,106.19 1328.48,104.43 1334.02,102.68 1339.57,100.96 1345.11,99.26 1350.66,97.57 1356.2,95.9 1361.74,94.25 1367.29,92.62 1372.83,91 1378.38,89.4 1383.92,87.82 1389.47,86.25 1395.01,84.7 1400.56,83.16 1406.1,81.63 1411.64,80.13 1417.19,78.63 1422.73,77.15 1428.28,75.68 1433.82,74.23 1439.37,72.78 1444.91,71.36 1450.46,69.94 1456,68.53 1461.54,67.14 1467.09,65.76 1472.63,64.39 1478.18,63.03 1483.72,61.68 1489.27,60.35 1494.81,59.02 1500.36,57.71 1505.9,56.4"/>
<polyline class="curve" stroke="#e74c3c" points="957,604.7 962.54,420.68 968.09,387.74 973.63,365.79 979.18,348.89 984.72,334.97 990.27,323.02 995.81,312.52 1001.36,303.1 1006.9,294.54 1012.44,286.68 1017.99,279.39 1023.53,272.6 1029.08,266.22 1034.62,260.21 1040.17,254.51 1045.71,249.1 1051.26,243.94 1056.8,239.01 1062.34,234.28 1067.89,229.74 1073.43,225.37 1078.98,221.15 1084.52,217.08 1090.07,213.14 1095.61,209.33 1101.16,205.62 1106.7,202.03 1112.24,198.53 1117.79,195.13 1123.33,191.82 1128.88,188.59 1134.42,185.44 1139.97,182.37 1145.51,179.36 1151.06,176.42 1156.6,173.54 1162.14,170.73 1167.69,167.97 1173.23,165.27 1178.78,162.61 1184.32,160.01 1189.87,157.46 1195.41,154.95 1200.96,152.49 1206.5,150.07 1212.04,147.69 1217.59,145.35 1223.13,143.04 1228.68,140.78 1234.22,138.54 1239.77,136.34 1245.31,134.18 1250.86,132.04 1256.4,129.94 1261.94,127.87 1267.49,125.82 1273.03,123.8 1278.58,121.81 1284.12,119.85 1289.67,117.91 1295.21,115.99 1300.76,114.1 1306.3,112.23 1311.84,110.38 1317.39,108.56 1322.93,106.76 1328.48,104.97 1334.02,103.21 1339.57,101.47 1345.11,99.75 1350.66,98.04 1356.2,96.36 1361.74,94.69 1367.29,93.04 1372.83,91.4 1378.38,89.78 1383.92,88.18 1389.47,86.6 1395.01,85.02 1400.56,83.47 1406.1,81.93 1411.64,80.4 1417.19,78.89 1422.73,77.39 1428.28,75.91 1433.82,74.44 1439.37,72.98 1444.91,71.53 1450.46,70.1 1456,68.68 1461.54,67.27 1467.09,65.87 1472.63,64.48 1478.18,63.11 1483.72,61.75 1489.27,60.39 1494.81,59.05 1500.36,57.72 1505.9,56.4"/>
<polyline class="curve" stroke="#3498db" points="957,604.7 962.54,415.94 968.09,383 973.63,361.12 979.18,344.31 984.72,330.47 990.27,318.62 995.81,308.2 1001.36,298.87 1006.9,290.39 1012.44,282.61 1017.99,275.41 1023.53,268.69 1029.08,262.39 1034.62,256.46 1040.17,250.84 1045.71,245.5 1051.26,240.41 1056.8,235.54 1062.34,230.88 1067.89,226.41 1073.43,222.1 1078.98,217.95 1084.52,213.94 1090.07,210.06 1095.61,206.3 1101.16,202.66 1106.7,199.12 1112.24,195.68 1117.79,192.34 1123.33,189.08 1128.88,185.91 1134.42,182.81 1139.97,179.79 1145.51,176.83 1151.06,173.95 1156.6,171.12 1162.14,168.36 1167.69,165.65 1173.23,162.99 1178.78,160.39 1184.32,157.84 1189.87,155.33 1195.41,152.87 1200.96,150.45 1206.5,148.08 1212.04,145.74 1217.59,143.45 1223.13,141.19 1228.68,138.97 1234.22,136.78 1239.77,134.62 1245.31,132.5 1250.86,130.41 1256.4,128.34 1261.94,126.31 1267.49,124.31 1273.03,122.33 1278.58,120.38 1284.12,118.45 1289.67,116.55 1295.21,114.68 1300.76,112.83 1306.3,111 1311.84,109.19 1317.39,107.4 1322.93,105.64 1328.48,103.89 1334.02,102.17 1339.57,100.46 1345.11,98.78 1350.66,97.11 1356.2,95.46 1361.74,93.83 1367.29,92.21 1372.83,90.61 1378.38,89.03 1383.92,87.46 1389.47,85.91 1395.01,84.38 1400.56,82.85 1406.1,81.35 1411.64,79.86 1417.19,78.38 1422.73,76.91 1428.28,75.46 1433.82,74.02 1439.37,72.6 1444.91,71.18 1450.46,69.78 1456,68.39 1461.54,67.02 1467.09,65.65 1472.63,64.3 1478.18,62.95 1483.72,61.62 1489.27,60.3 1494.81,58.99 1500.36,57.69 1505.9,56.4"/>
<polyline class="curve" stroke="#f1c40f" points="957,604.7 962.54,413.6 968.09,380.67 973.63,358.84 979.18,342.06 984.72,328.27 990.27,316.47 995.81,306.09 1001.36,296.8 1006.9,288.37 1012.44,280.63 1017.99,273.47 1023.53,266.79 1029.08,260.53 1034.62,254.63 1040.17,249.05 1045.71,243.74 1051.26,238.69 1056.8,233.86 1062.34,229.23 1067.89,224.79 1073.43,220.51 1078.98,216.39 1084.52,212.41 1090.07,208.56 1095.61,204.83 1101.16,201.22 1106.7,197.71 1112.24,194.3 1117.79,190.98 1123.33,187.75 1128.88,184.61 1134.42,181.54 1139.97,178.54 1145.51,175.61 1151.06,172.75 1156.6,169.95 1162.14,167.21 1167.69,164.52 1173.23,161.89 1178.78,159.31 1184.32,156.78 1189.87,154.3 1195.41,151.86 1200.96,149.47 1206.5,147.12 1212.04,144.8 1217.59,142.53 1223.13,140.29 1228.68,138.09 1234.22,135.92 1239.77,133.79 1245.31,131.69 1250.86,129.61 1256.4,127.57 1261.94,125.56 1267.49,123.58 1273.03,121.62 1278.58,119.69 1284.12,117.78 1289.67,115.9 1295.21,114.04 1300.76,112.21 1306.3,110.4 1311.84,108.61 1317.39,106.84 1322.93,105.1 1328.48,103.37 1334.02,101.66 1339.57,99.98 1345.11,98.31 1350.66,96.66 1356.2,95.02 1361.74,93.41 1367.29,91.81 1372.83,90.23 1378.38,88.66 1383.92,87.11 1389.47,85.58 1395.01,84.06 1400.56,82.56 1406.1,81.07 1411.64,79.59 1417.19,78.13 1422.73,76.68 1428.28,75.24 1433.82,73.82 1439.37,72.41 1444.91,71.02 1450.46,69.63 1456,68.26 1461.54,66.9 1467.09,65.55 1472.63,64.21 1478.18,62.88 1483.72,61.56 1489.27,60.26 1494.81,58.96 1500.36,57.68 1505.9,56.4"/>
</g>
<g class="tick" text-anchor="middle"><text x="957" y="655.4">0.0</text><text x="1066.78" y="655.4">0.2</text><text x="1176.56" y="655.4">0.4</text><text x="1286.34" y="655.4">0.6</text><text x="1396.12" y="655.4">0.8</text><text x="1505.9" y="655.4">1.0</text></g>
<g class="tick" text-anchor="end"><text x="917.9" y="610.2">0.0</text><text x="917.9" y="500.54">0.2</text><text x="917.9" y="390.88">0.4</text><text x="917.9" y="281.22">0.6</text><text x="917.9" y="171.56">0.8</text><text x="917.9" y="61.9">1.0</text></g>
<text class="ttl" text-anchor="middle" x="1231.8" y="19">B. 28-day Prediction</text>
<text class="lab" text-anchor="middle" x="1231.8" y="680">1 - Specificity</text>
<text class="lab" text-anchor="middle" transform="translate(885.8 330.45) rotate(-90)">Sensitivity</text>
<rect x="1272.4" y="522.5" width="251.5" height="101" rx="3" ry="3" fill="#eaeaf2" fill-opacity="0.45"/>
<path d="M1279.1 537H1313" stroke="#2ecc71" stroke-width="4.00" stroke-linecap="round" fill="none"/>
<path d="M1279.1 560.57H1313" stroke="#e74c3c" stroke-width="4.00" stroke-linecap="round" fill="none"/>
<path d="M1279.1 584.14H1313" stroke="#3498db" stroke-width="4.00" stroke-linecap="round" fill="none"/>
<path d="M1279.1 607.71H1313" stroke="#f1c40f" stroke-width="4.00" stroke-linecap="round" fill="none"/>
</g>
<g class="leg" id="legend-A">
<text x="453.6" y="542.8">Overall: 0.88 (0.86-0.90)</text>
<text x="453.6" y="566.37">Pulmonary: 0.87 (0.84-0.90)</text>
<text x="453.6" y="589.94">Abdominal: 0.89 (0.86-0.92)</text>
<text x="453.6" y="613.51">Urinary: 0.90 (0.87-0.93)</text>
</g>
<g class="leg" id="legend-B">
<text x="1326.2" y="542.8">Overall: 0.85 (0.83-0.87)</text>
<text x="1326.2" y="566.37">Pulmonary: 0.84 (0.81-0.87)</text>
<text x="1326.2" y="589.94">Abdominal: 0.86 (0.83-0.89)</text>
<text x="1326.2" y="613.51">Urinary: 0.87 (0.84-0.90)</text>
</g>
</svg>
</body>
</html>
